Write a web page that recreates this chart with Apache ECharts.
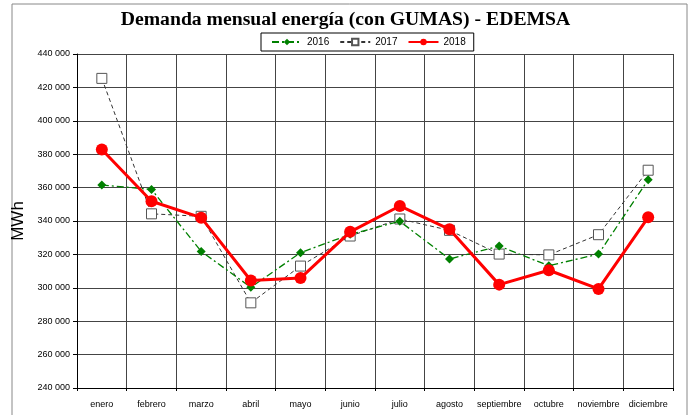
<!DOCTYPE html>
<html lang="es">
<head>
<meta charset="UTF-8">
<title>Demanda mensual energía</title>
<script src="https://cdn.jsdelivr.net/npm/echarts@6/dist/echarts.min.js"></script>
<style>
  html, body { margin: 0; padding: 0; background: #fff; }
  #chart { width: 691px; height: 415px; }
</style>
</head>
<body>
<div id="chart"></div>
<script>
// meses
var meses = ['enero', 'febrero', 'marzo', 'abril', 'mayo', 'junio', 'julio',
             'agosto', 'septiembre', 'octubre', 'noviembre', 'diciembre'];

// MWh
var d2016 = [361500, 358900, 321800, 300300, 321000, 332000, 339800, 317200, 325000, 313200, 320200, 364700];
var d2017 = [425400, 344300, 342800, 291000, 313000, 331000, 341200, 334400, 320200, 319700, 331800, 370400];
var d2018 = [382800, 351800, 342000, 304400, 305800, 333500, 349000, 335000, 301900, 310500, 299300, 342200];

var chart = echarts.init(document.getElementById('chart'));

function fmt(v) {
    return String(v).replace(/\B(?=(\d{3})+(?!\d))/g, ' ');
}

chart.setOption({
    animation: false,
    title: {
        text: 'Demanda mensual energía (con GUMAS) - EDEMSA',
        left: 'center',
        top: 5,
        textStyle: { fontFamily: 'Liberation Serif', fontWeight: 'bold', fontSize: 19.7, color: '#000' }
    },
    legend: {
        left: 261, top: 33,
        padding: [4, 8, 4, 10],
        borderColor: '#000', borderWidth: 1,
        itemWidth: 30, itemHeight: 8, itemGap: 10,
        textStyle: { fontFamily: 'Liberation Sans', fontSize: 10, color: '#000' },
        data: ['2016', '2017', '2018']
    },
    graphic: [{
        type: 'polyline',
        shape: { points: [[12, 415], [12, 4], [687, 4], [687, 415]] },
        style: { stroke: '#888', lineWidth: 1, fill: null }
    }],
    grid: { left: 77, right: 18, top: 54, bottom: 27 },
    xAxis: {
        type: 'category',
        data: meses,
        boundaryGap: true,
        axisLine: { lineStyle: { color: '#000' } },
        axisTick: { show: true, length: 3, lineStyle: { color: '#000' } },
        axisLabel: { fontFamily: 'Liberation Sans', fontSize: 9, color: '#000', margin: 12, interval: 0 },
        splitLine: { show: true, lineStyle: { color: '#444', width: 1 } }
    },
    yAxis: {
        type: 'value',
        min: 240000, max: 440000, interval: 20000,
        name: 'MWh',
        nameLocation: 'middle',
        nameGap: 42,
        nameTextStyle: { fontFamily: 'Liberation Sans', fontSize: 17, color: '#000' },
        axisLine: { show: true, lineStyle: { color: '#000' } },
        axisTick: { show: true, length: 4, lineStyle: { color: '#000' } },
        axisLabel: { fontFamily: 'Liberation Sans', fontSize: 9, color: '#000', formatter: fmt, margin: 7 },
        splitLine: { show: true, lineStyle: { color: '#444', width: 1 } }
    },
    series: [{
        name: '2016',
        type: 'line',
        data: d2016,
        symbol: 'diamond',
        symbolSize: 9,
        itemStyle: { color: '#008000' },
        lineStyle: { color: '#008000', width: 1.3, type: [7, 3, 2, 3] },
        z: 3
    }, {
        name: '2017',
        type: 'line',
        data: d2017,
        symbol: 'rect',
        symbolSize: 10,
        itemStyle: { color: '#fff', borderColor: '#555', borderWidth: 1 },
        lineStyle: { color: '#333', width: 1, type: [4, 3] },
        z: 2
    }, {
        name: '2018',
        type: 'line',
        data: d2018,
        symbol: 'circle',
        symbolSize: 12,
        itemStyle: { color: '#ff0000' },
        lineStyle: { color: '#ff0000', width: 3 },
        z: 4
    }]
});
</script>
</body>
</html>
